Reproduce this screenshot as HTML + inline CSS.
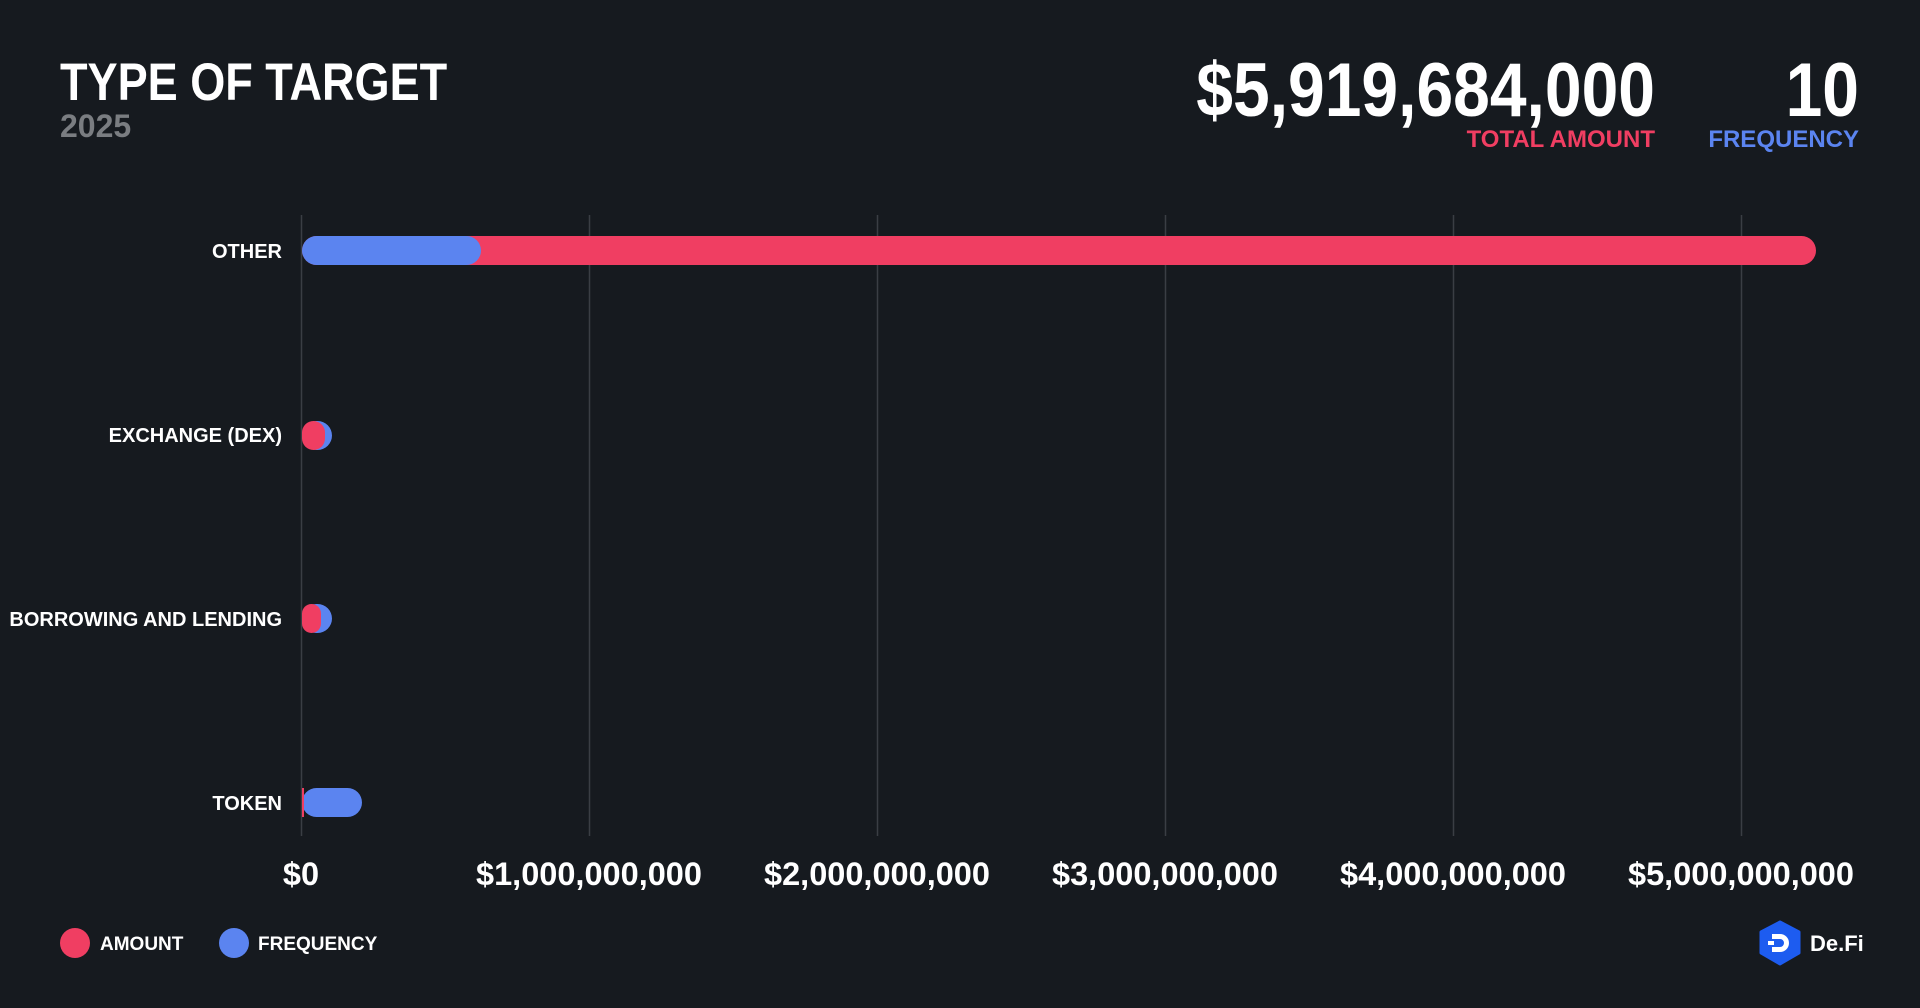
<!DOCTYPE html>
<html><head><meta charset="utf-8"><style>
html,body{margin:0;padding:0;background:#161a1f;}
svg{display:block;font-family:"Liberation Sans",sans-serif;font-weight:bold;}
</style></head><body>
<svg width="1920" height="1008" viewBox="0 0 1920 1008" xmlns="http://www.w3.org/2000/svg">
<rect width="1920" height="1008" fill="#161a1f"/>
<text x="60" y="100" font-size="46" fill="#fff" transform="translate(60 100) scale(0.98 1.15) translate(-60 -100)">TYPE OF TARGET</text>
<text x="60" y="137" font-size="32" fill="#7a7d81">2025</text>
<text x="1655" y="116" font-size="66" fill="#fff" text-anchor="end" transform="translate(1655 116) scale(1 1.15) translate(-1655 -116)">$5,919,684,000</text>
<text x="1859" y="116" font-size="66" fill="#fff" text-anchor="end" transform="translate(1859 116) scale(1 1.15) translate(-1859 -116)">10</text>
<text x="1655" y="147" font-size="24" fill="#f03e62" text-anchor="end">TOTAL AMOUNT</text>
<text x="1859" y="147" font-size="24" fill="#5b84f0" text-anchor="end">FREQUENCY</text>
<g stroke="#3a3e44" stroke-width="1.5">
<line x1="301.5" y1="215" x2="301.5" y2="836"/>
<line x1="589.5" y1="215" x2="589.5" y2="836"/>
<line x1="877.5" y1="215" x2="877.5" y2="836"/>
<line x1="1165.5" y1="215" x2="1165.5" y2="836"/>
<line x1="1453.5" y1="215" x2="1453.5" y2="836"/>
<line x1="1741.5" y1="215" x2="1741.5" y2="836"/>
</g>
<rect x="302" y="236" width="1514" height="29" rx="14.5" fill="#f03e62"/>
<rect x="302" y="236" width="179" height="29" rx="14.5" fill="#5b84f0"/>
<rect x="302" y="421" width="30" height="29" rx="14.5" fill="#5b84f0"/>
<rect x="302" y="421" width="23" height="29" rx="11.5" fill="#f03e62"/>
<rect x="302" y="604" width="30" height="29" rx="14.5" fill="#5b84f0"/>
<rect x="302" y="604" width="19" height="29" rx="9.5" fill="#f03e62"/>
<rect x="302" y="788" width="60" height="29" rx="14.5" fill="#5b84f0"/>
<rect x="302" y="788" width="2" height="29" fill="#f03e62"/>
<g font-size="20" fill="#fff" text-anchor="end">
<text x="282" y="258">OTHER</text>
<text x="282" y="442">EXCHANGE (DEX)</text>
<text x="282" y="626">BORROWING AND LENDING</text>
<text x="282" y="810">TOKEN</text>
</g>
<g font-size="32.5" fill="#fff" text-anchor="middle">
<text x="301" y="885">$0</text>
<text x="589" y="885">$1,000,000,000</text>
<text x="877" y="885">$2,000,000,000</text>
<text x="1165" y="885">$3,000,000,000</text>
<text x="1453" y="885">$4,000,000,000</text>
<text x="1741" y="885">$5,000,000,000</text>
</g>
<circle cx="75" cy="943" r="15" fill="#f03e62"/>
<text x="100" y="950" font-size="19" fill="#fff">AMOUNT</text>
<circle cx="234" cy="943" r="15" fill="#5b84f0"/>
<text x="258" y="950" font-size="19" fill="#fff">FREQUENCY</text>
<polygon points="1780,922 1799,932 1799,953 1780,964 1761,953 1761,932" fill="#1d5cf0" stroke="#1d5cf0" stroke-width="3" stroke-linejoin="round"/>
<path d="M1772,934 h8 a9,9 0 0 1 0,18 h-8 v-5 h8 a4,4 0 0 0 0,-8 h-8 z" fill="#fff"/>
<rect x="1768" y="941" width="6" height="4" fill="#fff"/>
<text x="1810" y="951" font-size="22" fill="#fff">De.Fi</text>
</svg>
</body></html>
